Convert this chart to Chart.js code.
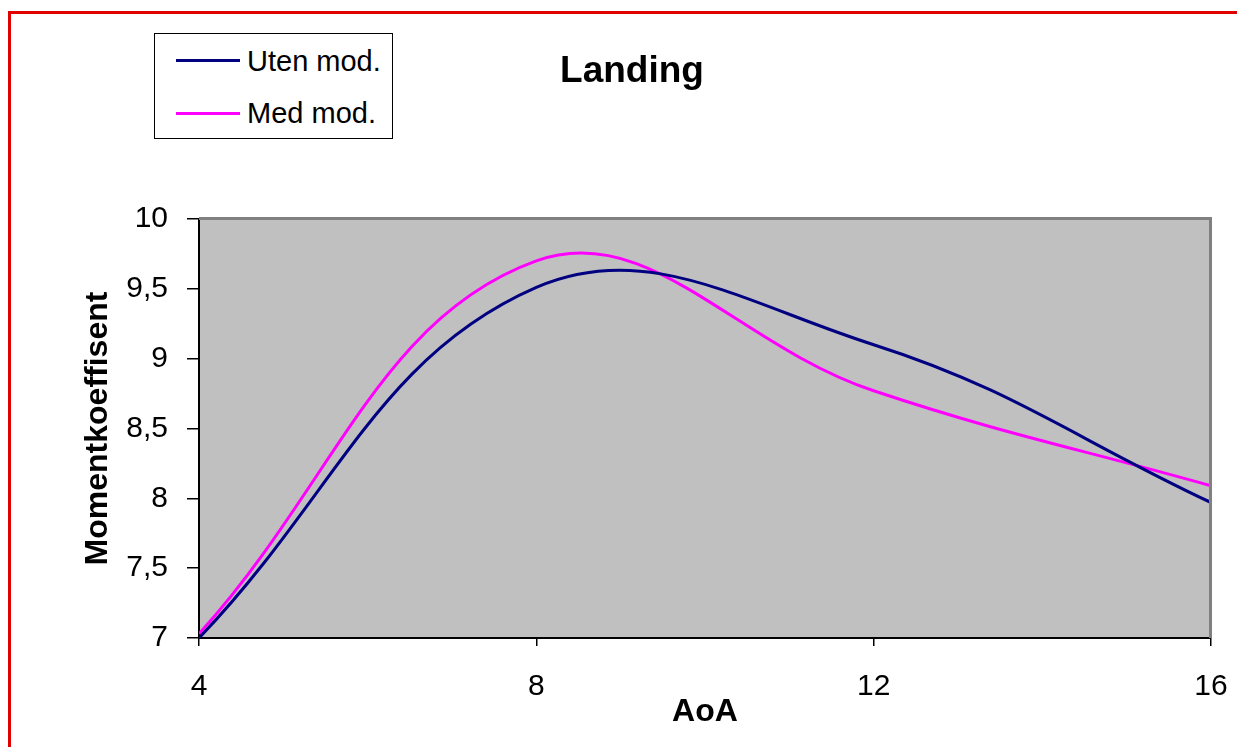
<!DOCTYPE html>
<html>
<head>
<meta charset="utf-8">
<script src="https://cdn.jsdelivr.net/npm/chart.js@4"></script>
<style>
    body { margin: 0; background: #fff; font-family: "Liberation Sans", Arial, sans-serif; }
    #wrap { position: relative; width: 1237px; height: 747px; overflow: hidden; }
    #frame { position: absolute; left: 8px; top: 11px; width: 1300px; height: 800px;
             border-left: 3px solid #e00000; border-top: 3px solid #e00000; }
    #chartTitle { position: absolute; left: 432px; top: 51px; width: 400px; text-align: center;
                  font: bold 37px "Liberation Sans", Arial, sans-serif; line-height: 37px; color: #000; }
    #legendBox { position: absolute; left: 154px; top: 33px; width: 239px; height: 106px;
                 box-sizing: border-box; border: 1px solid #000; background: #fff; }
    .legendLine { position: absolute; left: 176px; width: 64px; height: 3px; }
    .legendText { position: absolute; left: 247px; font: 29px "Liberation Sans", Arial, sans-serif;
                  line-height: 29px; color: #000; white-space: nowrap; }
    canvas { position: absolute; left: 0; top: 0; }
</style>
</head>
<body>
<div id="wrap">
    <div id="frame"></div>
    <canvas id="landingGraph" width="1237" height="747"></canvas>
    <div id="chartTitle">Landing</div>
    <div id="legendBox"></div>
    <div class="legendLine" id="legendLine0" style="top:59px"></div>
    <div class="legendText" id="legendText0" style="top:47px"></div>
    <div class="legendLine" id="legendLine1" style="top:112px"></div>
    <div class="legendText" id="legendText1" style="top:99px"></div>
</div>
<script>
// angle of attack and moment coefficient per configuration
const aoa = [4, 8, 12, 16];
const utenMod = [7.0, 9.51, 9.10, 7.97];
const medMod = [7.03, 9.70, 8.77, 8.09];
const seriesNames = ["Uten mod.", "Med mod."];
const seriesColors = ["#000080", "#ff00ff"];
const yTicks = [7, 7.5, 8, 8.5, 9, 9.5, 10];
const xTicks = [4, 8, 12, 16];

// fill the plot area grey and draw the grey frame on top and right
const plotAreaPlugin = {
    id: "plotArea",
    beforeDraw(chart) {
        const { ctx, chartArea } = chart;
        ctx.save();
        ctx.fillStyle = "#c0c0c0";
        ctx.fillRect(chartArea.left, chartArea.top, chartArea.right - chartArea.left, chartArea.bottom - chartArea.top);
        ctx.restore();
    },
    afterDatasetsDraw(chart) {
        const { ctx, chartArea } = chart;
        ctx.save();
        ctx.strokeStyle = "#808080";
        ctx.lineWidth = 3;
        ctx.beginPath();
        ctx.moveTo(chartArea.left, chartArea.top - 0.5);
        ctx.lineTo(chartArea.right - 0.5, chartArea.top - 0.5);
        ctx.lineTo(chartArea.right - 0.5, chartArea.bottom);
        ctx.stroke();
        ctx.restore();
    }
};

function to_points(values) {
    return aoa.map((a, i) => ({ x: a, y: values[i] }));
}

function format_comma(value) {
    return String(value).replace(".", ",");
}

function build_landing_config() {
    const tickFont = { family: "'Liberation Sans', Arial, sans-serif", size: 30 };
    const titleFont = { family: "'Liberation Sans', Arial, sans-serif", size: 32, weight: "bold" };
    return {
        type: "line",
        data: {
            datasets: [utenMod, medMod].map((values, i) => ({
                label: seriesNames[i],
                data: to_points(values),
                borderColor: seriesColors[i],
                borderWidth: 3,
                pointRadius: 0,
                tension: 0.4,
                fill: false
            }))
        },
        options: {
            responsive: false,
            devicePixelRatio: 1,
            animation: false,
            layout: { padding: { left: 0, right: 26, top: 219, bottom: 0 } },
            plugins: {
                legend: { display: false },
                title: { display: false },
                tooltip: { enabled: false }
            },
            scales: {
                x: {
                    type: "linear",
                    min: 4,
                    max: 16,
                    // fixed axis height, and no extra side room for the end labels
                    afterFit: scale => {
                        scale.height = 109;
                        scale.paddingLeft = 0;
                        scale.paddingRight = 0;
                    },
                    afterBuildTicks: scale => { scale.ticks = xTicks.map(v => ({ value: v })); },
                    grid: { drawOnChartArea: false, drawTicks: true, tickLength: 8, color: "#000", lineWidth: 1.5 },
                    border: { display: true, color: "#000", width: 2 },
                    ticks: { color: "#000", font: tickFont, padding: 23, maxRotation: 0, callback: v => format_comma(v) },
                    title: { display: true, text: "AoA", color: "#000", font: titleFont, padding: { top: 0, bottom: 16 } }
                },
                y: {
                    type: "linear",
                    min: 7,
                    max: 10,
                    afterFit: scale => { scale.width = 199; },
                    afterBuildTicks: scale => { scale.ticks = yTicks.map(v => ({ value: v })); },
                    grid: { drawOnChartArea: false, drawTicks: true, tickLength: 12, color: "#000", lineWidth: 1.5 },
                    border: { display: true, color: "#000", width: 2 },
                    ticks: { color: "#000", font: tickFont, padding: 19, callback: v => format_comma(v) },
                    title: { display: true, text: "Momentkoeffisent", color: "#000", font: titleFont, padding: { top: 79, bottom: 0 } }
                }
            }
        },
        plugins: [plotAreaPlugin]
    };
}

// legend entries next to the title
seriesNames.forEach((name, i) => {
    document.getElementById("legendLine" + i).style.background = seriesColors[i];
    document.getElementById("legendText" + i).innerText = name;
});

const landingGraph = new Chart("landingGraph", build_landing_config());
</script>
</body>
</html>
